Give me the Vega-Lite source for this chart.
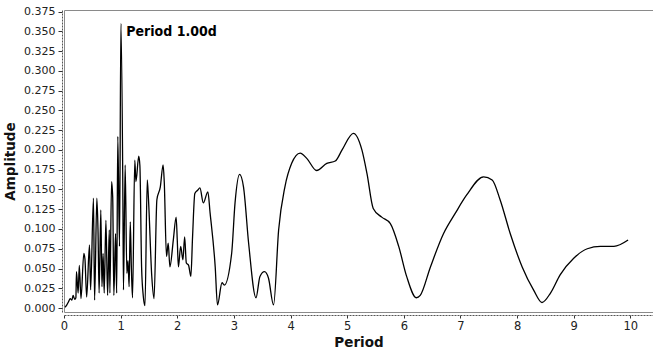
{
  "$schema": "https://vega.github.io/schema/vega-lite/v6.json",
  "autosize": "none",
  "width": 589,
  "height": 302,
  "padding": {"left": 64, "top": 10, "right": 0, "bottom": 40},
  "background": "white",
  "config": {
    "view": {"stroke": "#8a8a8a", "strokeWidth": 1},
    "font": "DejaVu Sans"
  },
  "datasets": {
    "spectrum": [
      {"P": 0.02, "A": 0.001}, {"P": 0.05, "A": 0.004}, {"P": 0.08, "A": 0.008}, {"P": 0.11, "A": 0.012},
      {"P": 0.14, "A": 0.010}, {"P": 0.16, "A": 0.016}, {"P": 0.19, "A": 0.011}, {"P": 0.21, "A": 0.013},
      {"P": 0.22, "A": 0.046}, {"P": 0.25, "A": 0.019}, {"P": 0.27, "A": 0.054}, {"P": 0.30, "A": 0.012},
      {"P": 0.35, "A": 0.069}, {"P": 0.37, "A": 0.062}, {"P": 0.40, "A": 0.014}, {"P": 0.45, "A": 0.080},
      {"P": 0.47, "A": 0.023}, {"P": 0.52, "A": 0.139}, {"P": 0.54, "A": 0.010}, {"P": 0.58, "A": 0.139},
      {"P": 0.60, "A": 0.100}, {"P": 0.62, "A": 0.019}, {"P": 0.65, "A": 0.124}, {"P": 0.67, "A": 0.027},
      {"P": 0.69, "A": 0.069}, {"P": 0.71, "A": 0.019}, {"P": 0.74, "A": 0.111}, {"P": 0.77, "A": 0.016},
      {"P": 0.80, "A": 0.099}, {"P": 0.81, "A": 0.019}, {"P": 0.84, "A": 0.160}, {"P": 0.86, "A": 0.140},
      {"P": 0.88, "A": 0.016}, {"P": 0.91, "A": 0.094}, {"P": 0.93, "A": 0.019}, {"P": 0.95, "A": 0.217},
      {"P": 0.98, "A": 0.078}, {"P": 1.005, "A": 0.360}, {"P": 1.04, "A": 0.137}, {"P": 1.05, "A": 0.023},
      {"P": 1.08, "A": 0.181}, {"P": 1.11, "A": 0.044}, {"P": 1.13, "A": 0.060}, {"P": 1.15, "A": 0.027},
      {"P": 1.17, "A": 0.109}, {"P": 1.19, "A": 0.050}, {"P": 1.21, "A": 0.013}, {"P": 1.25, "A": 0.187},
      {"P": 1.27, "A": 0.160}, {"P": 1.32, "A": 0.192}, {"P": 1.34, "A": 0.180}, {"P": 1.37, "A": 0.052},
      {"P": 1.40, "A": 0.015}, {"P": 1.43, "A": 0.003}, {"P": 1.47, "A": 0.162}, {"P": 1.49, "A": 0.140},
      {"P": 1.55, "A": 0.040}, {"P": 1.59, "A": 0.012}, {"P": 1.64, "A": 0.137}, {"P": 1.70, "A": 0.153},
      {"P": 1.75, "A": 0.181}, {"P": 1.77, "A": 0.160}, {"P": 1.81, "A": 0.065}, {"P": 1.84, "A": 0.082},
      {"P": 1.87, "A": 0.052}, {"P": 1.93, "A": 0.086}, {"P": 1.98, "A": 0.115}, {"P": 2.00, "A": 0.086},
      {"P": 2.02, "A": 0.052}, {"P": 2.06, "A": 0.078}, {"P": 2.10, "A": 0.061}, {"P": 2.13, "A": 0.090},
      {"P": 2.16, "A": 0.057}, {"P": 2.20, "A": 0.054}, {"P": 2.24, "A": 0.040}, {"P": 2.27, "A": 0.090},
      {"P": 2.31, "A": 0.145}, {"P": 2.36, "A": 0.149}, {"P": 2.40, "A": 0.152}, {"P": 2.46, "A": 0.133},
      {"P": 2.54, "A": 0.147}, {"P": 2.58, "A": 0.120}, {"P": 2.67, "A": 0.052}, {"P": 2.71, "A": 0.004},
      {"P": 2.79, "A": 0.032}, {"P": 2.83, "A": 0.029}, {"P": 2.96, "A": 0.069}, {"P": 3.02, "A": 0.133},
      {"P": 3.10, "A": 0.169}, {"P": 3.17, "A": 0.153}, {"P": 3.26, "A": 0.082}, {"P": 3.39, "A": 0.013},
      {"P": 3.46, "A": 0.040}, {"P": 3.54, "A": 0.046}, {"P": 3.61, "A": 0.038}, {"P": 3.70, "A": 0.004},
      {"P": 3.79, "A": 0.099}, {"P": 3.90, "A": 0.153}, {"P": 4.02, "A": 0.183}, {"P": 4.17, "A": 0.196},
      {"P": 4.29, "A": 0.189}, {"P": 4.46, "A": 0.174}, {"P": 4.64, "A": 0.183}, {"P": 4.79, "A": 0.186},
      {"P": 4.91, "A": 0.200}, {"P": 5.11, "A": 0.221}, {"P": 5.26, "A": 0.200}, {"P": 5.35, "A": 0.170},
      {"P": 5.46, "A": 0.126}, {"P": 5.61, "A": 0.115}, {"P": 5.76, "A": 0.107}, {"P": 5.91, "A": 0.078},
      {"P": 6.05, "A": 0.040}, {"P": 6.22, "A": 0.013}, {"P": 6.29, "A": 0.016}, {"P": 6.47, "A": 0.052},
      {"P": 6.70, "A": 0.094}, {"P": 6.91, "A": 0.120}, {"P": 7.11, "A": 0.143}, {"P": 7.41, "A": 0.166},
      {"P": 7.56, "A": 0.162}, {"P": 7.70, "A": 0.137}, {"P": 7.88, "A": 0.094}, {"P": 8.09, "A": 0.052},
      {"P": 8.29, "A": 0.023}, {"P": 8.44, "A": 0.007}, {"P": 8.59, "A": 0.019}, {"P": 8.76, "A": 0.042},
      {"P": 9.00, "A": 0.063}, {"P": 9.24, "A": 0.075}, {"P": 9.47, "A": 0.078}, {"P": 9.71, "A": 0.078},
      {"P": 9.96, "A": 0.086}
    ],
    "note": [{"P": 1.1, "A": 0.349, "label": "Period 1.00d"}]
  },
  "encoding": {
    "x": {
      "field": "P", "type": "quantitative",
      "scale": {"domain": [0, 10.4], "nice": false, "zero": false},
      "axis": {
        "title": "Period", "values": [0,1,2,3,4,5,6,7,8,9,10], "format": "d",
        "offset": 3, "grid": false, "labelOverlap": false, "labelBound": false, "labelFlush": false,
        "domainColor": "#555", "domainDash": [2, 1],
        "tickColor": "#333", "tickSize": 3,
        "labelFont": "DejaVu Sans", "labelFontSize": 11.5, "labelColor": "#222", "labelPadding": 2,
        "titleFont": "DejaVu Sans", "titleFontSize": 13.5, "titleFontWeight": "bold", "titleColor": "#111", "titlePadding": 4
      }
    },
    "y": {
      "field": "A", "type": "quantitative",
      "scale": {"domain": [-0.005, 0.377], "nice": false, "zero": false},
      "axis": {
        "title": "Amplitude",
        "values": [0, 0.025, 0.05, 0.075, 0.1, 0.125, 0.15, 0.175, 0.2, 0.225, 0.25, 0.275, 0.3, 0.325, 0.35, 0.375],
        "format": ".3f", "grid": false, "labelOverlap": false, "labelBound": false, "labelFlush": false,
        "domainColor": "#555", "domainDash": [2, 1],
        "tickColor": "#333", "tickSize": 4, "offset": 2,
        "labelFont": "DejaVu Sans", "labelFontSize": 11, "labelColor": "#222", "labelPadding": 3,
        "titleFont": "DejaVu Sans", "titleFontSize": 13.5, "titleFontWeight": "bold", "titleColor": "#111", "titlePadding": 6
      }
    }
  },
  "layer": [
    {
      "data": {"name": "spectrum"},
      "mark": {"type": "line", "color": "black", "strokeWidth": 1.3, "interpolate": "monotone", "clip": true}
    },
    {
      "data": {"name": "note"},
      "mark": {"type": "text", "align": "left", "baseline": "middle", "font": "DejaVu Sans Condensed, DejaVu Sans", "fontSize": 14, "fontWeight": "bold", "color": "black"},
      "encoding": {
        "text": {"field": "label"}
      }
    }
  ]
}
